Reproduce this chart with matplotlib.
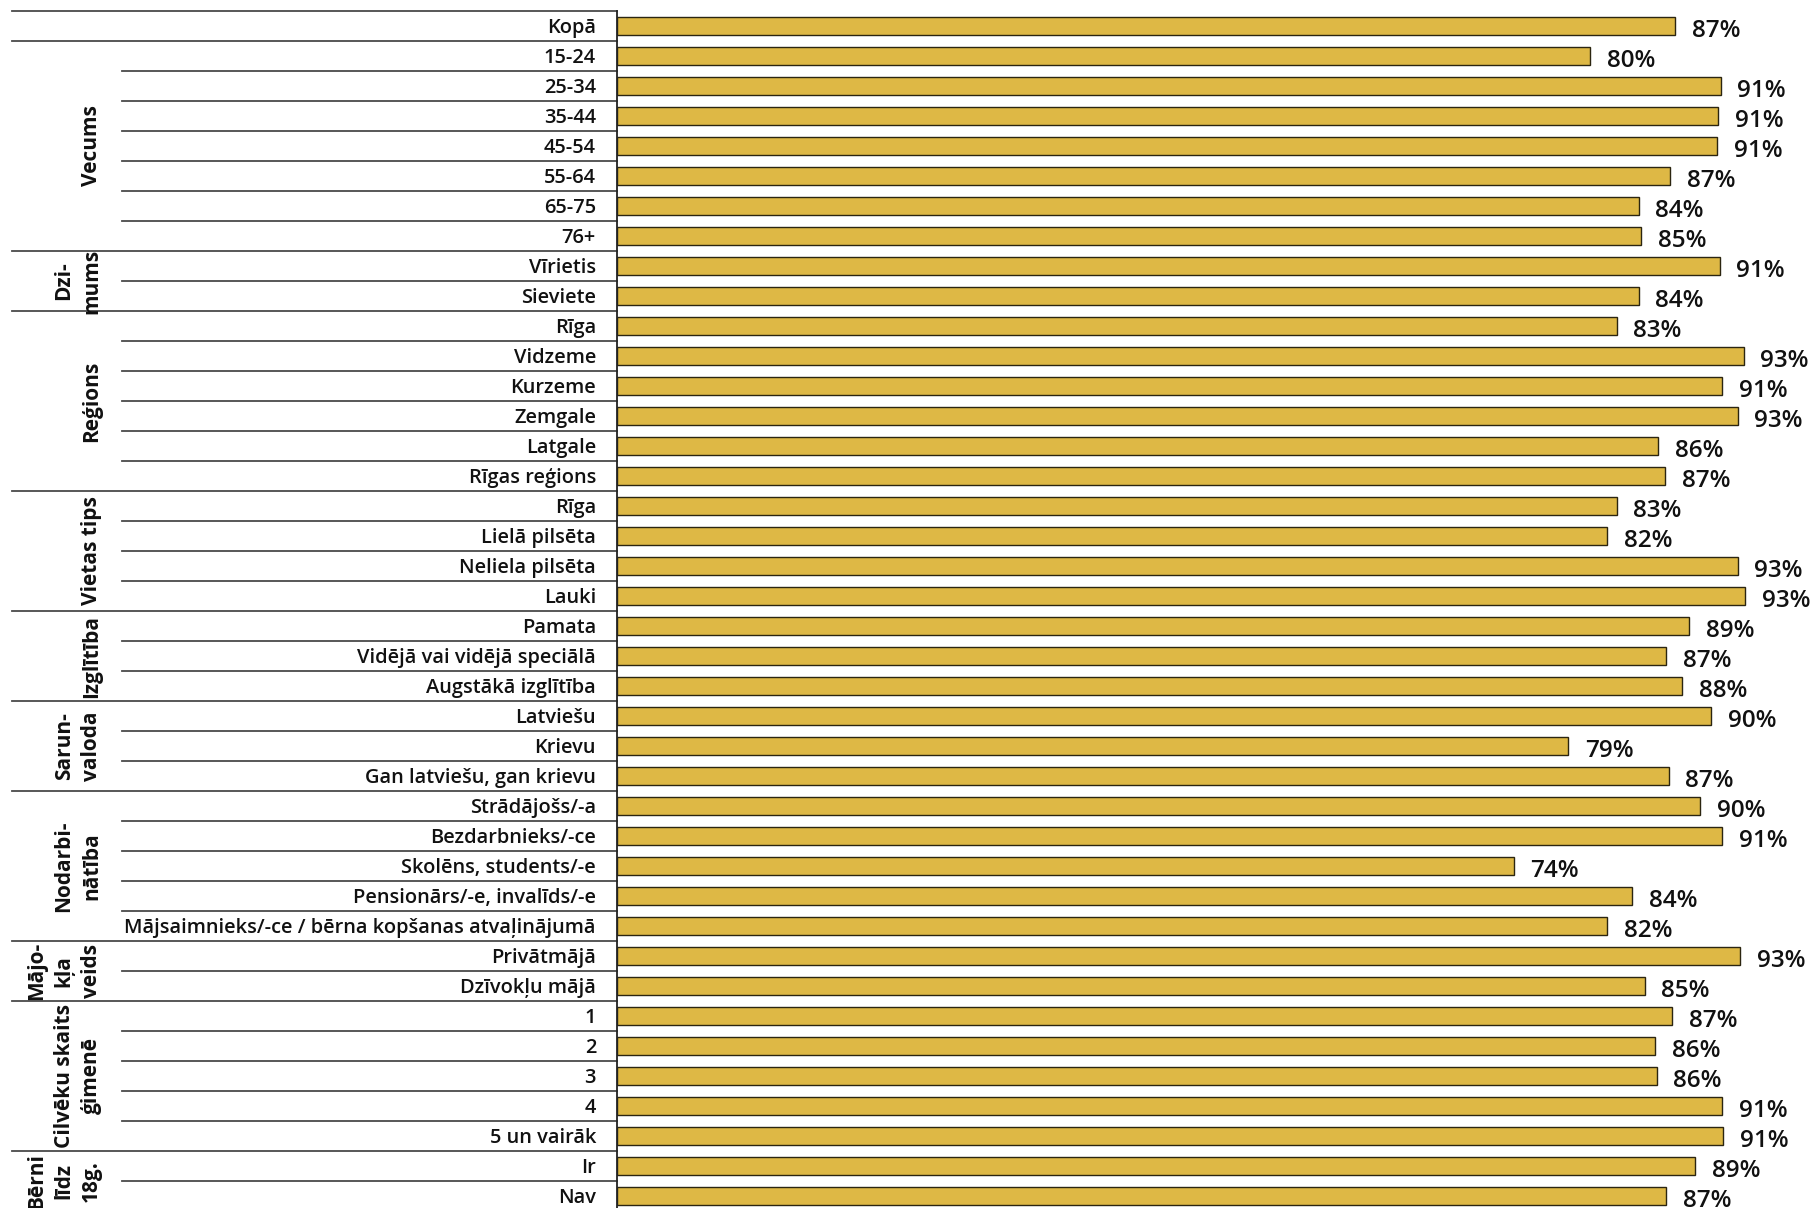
import matplotlib
matplotlib.use("Agg")
import matplotlib.pyplot as plt
from matplotlib.transforms import blended_transform_factory

categories = [
    "Kopā",
    "15-24", "25-34", "35-44", "45-54", "55-64", "65-75", "76+",
    "Vīrietis", "Sieviete",
    "Rīga", "Vidzeme", "Kurzeme", "Zemgale", "Latgale", "Rīgas reģions",
    "Rīga", "Lielā pilsēta", "Neliela pilsēta", "Lauki",
    "Pamata", "Vidējā vai vidējā speciālā", "Augstākā izglītība",
    "Latviešu", "Krievu", "Gan latviešu, gan krievu",
    "Strādājošs/-a", "Bezdarbnieks/-ce", "Skolēns, students/-e",
    "Pensionārs/-e, invalīds/-e", "Mājsaimnieks/-ce / bērna kopšanas atvaļinājumā",
    "Privātmājā", "Dzīvokļu mājā",
    "1", "2", "3", "4", "5 un vairāk",
    "Ir", "Nav",
]
values = [
    87.4,
    80.4, 91.2, 91.0, 90.9, 87.0, 84.4, 84.6,
    91.1, 84.4,
    82.6, 93.1, 91.3, 92.6, 86.0, 86.6,
    82.6, 81.8, 92.6, 93.2,
    88.6, 86.7, 88.0,
    90.4, 78.6, 86.9,
    89.5, 91.3, 74.1, 83.9, 81.8,
    92.8, 84.9,
    87.2, 85.8, 85.9, 91.3, 91.4,
    89.1, 86.7,
]
group_names = ["Vecums", "Dzi-\nmums", "Reģions", "Vietas tips", "Izglītība",
               "Sarun-\nvaloda", "Nodarbi-\nnātība", "Mājo-\nkļa\nveids",
               "Cilvēku skaits\nģimenē", "Bērni\nlīdz\n18g."]
group_sizes = [7, 2, 6, 4, 3, 3, 5, 2, 5, 2]

FONT = ["Open Sans", "DejaVu Sans"]
plt.rcParams["font.family"] = FONT

W, H = 1816, 1208
fig = plt.figure(figsize=(W / 100, H / 100), dpi=100)

axis_px = 617.3
top_px = 11.0
row_px = 30.0
n = len(categories)
bottom_px = top_px + n * row_px
px_per_unit = 12.1

ax = fig.add_axes([axis_px / W, 1 - bottom_px / H, (W - axis_px) / W, n * row_px / H])
ax.set_xlim(0, (W - axis_px) / px_per_unit)
ax.set_ylim(n - 0.5, -0.5)
ax.axis("off")

ys = list(range(n))
ax.barh(ys, values, height=0.57, color="#DEB845", edgecolor="#2b2510", linewidth=1.0, zorder=3)
for y, v in zip(ys, values):
    ax.annotate(f"{round(v)}%", xy=(v, y + 0.36), xytext=(12, 0), textcoords="offset points",
                ha="left", va="baseline", fontsize=17.5, fontweight="semibold", color="#111111")

# vertical axis line
ax.plot([0, 0], [-0.5, n - 0.5], color="#222222", lw=1.3, clip_on=False, zorder=4)

tr = blended_transform_factory(fig.transFigure, ax.transData)
# group boundaries
boundaries = {0, 1}
start = 1
starts = []
for s in group_sizes:
    starts.append(start)
    start += s
    boundaries.add(start)
for b in range(n + 1):
    x0 = 12 / W if b in boundaries else 122 / W
    ax.plot([x0, axis_px / W], [b - 0.5, b - 0.5], color="#4a4a4a", lw=1.3,
            transform=tr, clip_on=False, zorder=2)

# category labels
for y, c in zip(ys, categories):
    ax.text(596 / W, y + 0.08, c, transform=tr, ha="right", va="center", fontsize=14.4,
            fontweight="semibold", color="#111111")

# group labels
for name, st, sz in zip(group_names, starts, group_sizes):
    center = st + (sz - 1) / 2
    ax.text(102 / W, center, name, transform=tr, rotation=90, ha="right", va="center",
            multialignment="center", fontsize=15, fontweight="bold", color="#111111",
            linespacing=1.4)

fig.savefig("out.png", dpi=100)
